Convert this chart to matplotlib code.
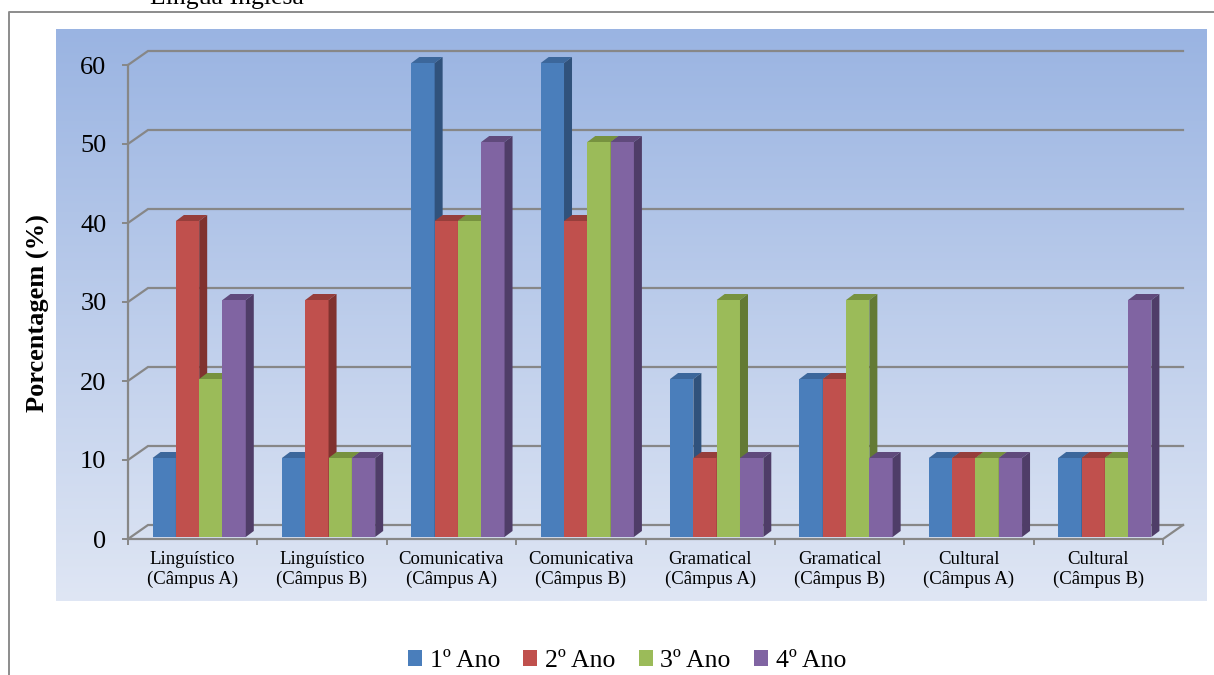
import numpy as np
import matplotlib
matplotlib.use("Agg")
import matplotlib.pyplot as plt
from matplotlib.patches import Polygon, Patch
from matplotlib.lines import Line2D

plt.rcParams['font.family'] = ['Liberation Serif', 'DejaVu Serif']

# ---- data ----
categories = ["Linguístico\n(Câmpus A)", "Linguístico\n(Câmpus B)",
              "Comunicativa\n(Câmpus A)", "Comunicativa\n(Câmpus B)",
              "Gramatical\n(Câmpus A)", "Gramatical\n(Câmpus B)",
              "Cultural\n(Câmpus A)", "Cultural\n(Câmpus B)"]
series_names = ["1º Ano", "2º Ano", "3º Ano", "4º Ano"]
ano1 = [10, 10, 60, 60, 20, 20, 10, 10]
ano2 = [40, 30, 40, 40, 10, 20, 10, 10]
ano3 = [20, 10, 40, 50, 30, 30, 10, 10]
ano4 = [30, 10, 50, 50, 10, 10, 10, 30]
yticks = [0, 10, 20, 30, 40, 50, 60]
title = "Língua Inglesa"
ylabel = "Porcentagem (%)"

series = [ano1, ano2, ano3, ano4]
front_colors = ["#4a7ebb", "#c0504d", "#9bbb59", "#8064a2"]
top_colors = ["#3c679b", "#963e3b", "#77923f", "#604a7c"]
side_colors = ["#30527c", "#80322f", "#637a34", "#4f3d68"]

W, H = 1214, 675
fig = plt.figure(figsize=(W / 100, H / 100), dpi=100)

# outer frame (left and top edges)
fig.add_artist(Line2D([8.5 / W, 8.5 / W, 1.0], [0.0, 1 - 12 / H, 1 - 12 / H],
                      transform=fig.transFigure, color="#8c8c8c", lw=1.4))
fig.text(227 / W, 1 - 4 / H, title, ha="center", va="baseline", fontsize=18.5)

# gradient plot-area background
bg = fig.add_axes([56 / W, (H - 601) / H, (1207 - 56) / W, (601 - 29) / H])
grad = np.linspace(0, 1, 256)[:, None]
c_top = np.array(matplotlib.colors.to_rgb("#9ab4e2"))
c_bot = np.array(matplotlib.colors.to_rgb("#dfe6f4"))
img = c_top[None, None, :] * (1 - grad[..., None]) + c_bot[None, None, :] * grad[..., None]
bg.imshow(img, aspect="auto", extent=[0, 1, 0, 1])
bg.set_axis_off()

# main axes = front plane of the 3-D box
x0, x1, y0, y1 = 128, 1163, 539, 65
ax = fig.add_axes([x0 / W, (H - y0) / H, (x1 - x0) / W, (y0 - y1) / H])
ax.patch.set_alpha(0)
n = len(categories)
ax.set_xlim(0, n)
ax.set_ylim(0, 60)
for s in ax.spines.values():
    s.set_visible(False)

pxx = (x1 - x0) / n
pxy = (y0 - y1) / 60.0
DX, DY = 20 / pxx, 14 / pxy          # depth of the box
grid_c = "#878787"

# back wall grid lines + side wall diagonals
for v in yticks:
    ax.plot([0, DX, n + DX], [v, v + DY, v + DY], color=grid_c, lw=1.6,
            clip_on=False, zorder=1, solid_joinstyle="miter")
# floor and front edges
ax.plot([0, n, n + DX], [0, 0, DY], color=grid_c, lw=1.6, clip_on=False, zorder=1)
ax.plot([0, 0], [0, 60], color=grid_c, lw=1.6, clip_on=False, zorder=1)

# ticks
ax.set_yticks(yticks)
ax.set_yticklabels([str(v) for v in yticks], fontsize=19)
ax.tick_params(axis="y", length=4.5, width=1.4, color=grid_c, pad=11)
centers = np.arange(n) + 0.5
ax.set_xticks(centers)
ax.set_xticklabels(categories, fontsize=13.5, linespacing=1.15)
ax.tick_params(axis="x", which="major", length=0, pad=9)
ax.set_xticks(np.arange(n + 1), minor=True)
ax.tick_params(axis="x", which="minor", length=4.5, width=1.4, color=grid_c)

# 3-D looking bars
bw = 23.3 / pxx
shift = 6.5 / pxx
base = 2 / pxy
bdx, bdy = 8 / pxx, 6 / pxy
for i in range(n):
    for k, vals in enumerate(series):
        v = vals[i]
        left = i + 0.5 + shift + (k - 2) * bw
        z = 5 + i * 20 + k * 4
        ax.bar(left, v, width=bw, bottom=base, align="edge",
               color=front_colors[k], edgecolor="none", zorder=z, clip_on=False)
        top = base + v
        ax.add_patch(Polygon([(left, top), (left + bw, top),
                              (left + bw + bdx, top + bdy), (left + bdx, top + bdy)],
                             closed=True, facecolor=top_colors[k], edgecolor="none",
                             zorder=z + 1, clip_on=False))
        ax.add_patch(Polygon([(left + bw, base), (left + bw, top),
                              (left + bw + bdx, top + bdy), (left + bw + bdx, base + bdy)],
                             closed=True, facecolor=side_colors[k], edgecolor="none",
                             zorder=z + 1, clip_on=False))

# y label
fig.text(38 / W, 1 - 313 / H, ylabel, rotation=90, ha="center", va="center",
         fontsize=19, fontweight="bold")

# legend
handles = [Patch(facecolor=c, edgecolor="none") for c in front_colors]
fig.legend(handles, series_names, loc="center", bbox_to_anchor=(627 / W, 1 - 661 / H),
           ncol=4, frameon=False, fontsize=18.5, handlelength=0.55, handleheight=0.55,
           handletextpad=0.3, columnspacing=0.9, borderpad=0)

fig.savefig("out.png", dpi=100)
